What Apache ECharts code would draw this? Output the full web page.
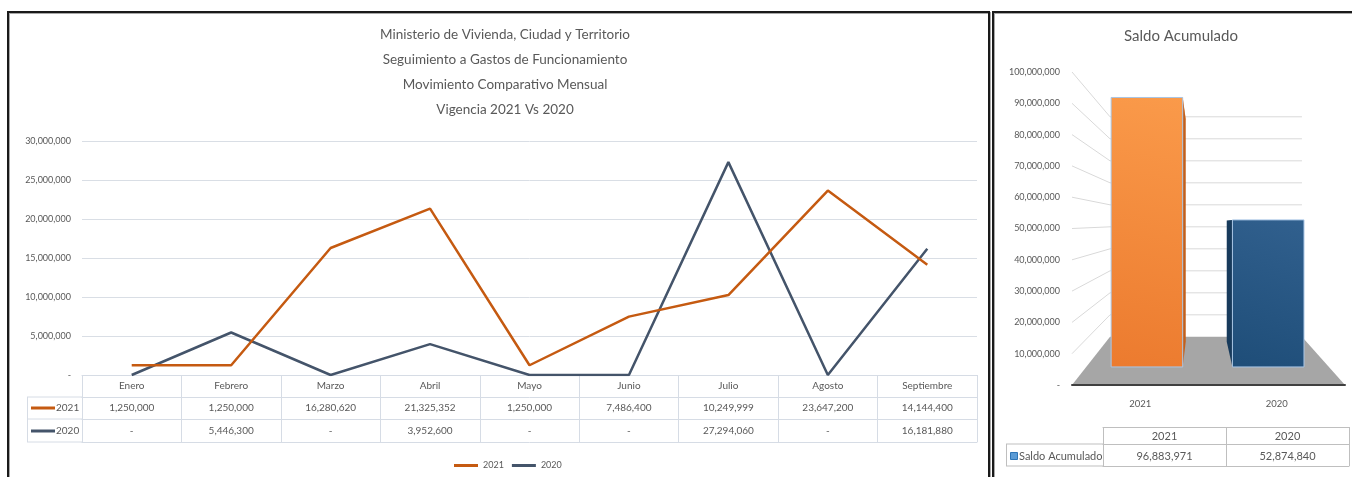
<!DOCTYPE html>
<html><head><meta charset="utf-8">
<script src="https://cdn.jsdelivr.net/npm/echarts@6/dist/echarts.min.js"></script>
<style>
html,body{margin:0;padding:0;background:#fff;overflow:hidden}
#c{position:absolute;left:0;top:0;width:1352px;height:477px}
.frame{position:absolute;border:2px solid #1a1a1a;box-shadow:inset 1px 1px 0 #a8a8a8,1px 1px 0 #a8a8a8;box-sizing:border-box}
</style></head><body>
<div class="frame" style="left:7px;top:11px;width:983px;height:520px"></div>
<div class="frame" style="left:992px;top:11px;width:420px;height:520px"></div>
<div id="c"></div>
<script>
// ---- data ----
const months = ['Enero','Febrero','Marzo','Abril','Mayo','Junio','Julio','Agosto','Septiembre'];
const seriesNames = ['2021','2020'];
const v2021 = [1250000,1250000,16280620,21325352,1250000,7486400,10249999,23647200,14144400];
const v2020 = [0,5446300,0,3952600,0,0,27294060,0,16181880];
const leftTitleLines = ['Ministerio de Vivienda, Ciudad y Territorio','Seguimiento a Gastos de Funcionamiento','Movimiento Comparativo Mensual','Vigencia 2021 Vs 2020'];
const leftTicks = [0,5000000,10000000,15000000,20000000,25000000,30000000];
const rightTitle = 'Saldo Acumulado';
const saldoCats = ['2021','2020'];
const saldoVals = [96883971,52874840];
const rightTicks = [0,10000000,20000000,30000000,40000000,50000000,60000000,70000000,80000000,90000000,100000000];

const FONT = 'Lato';
const TXT = '#595959';
const fmt = v => v === 0 ? '-' : String(v).replace(/\B(?=(\d{3})+(?!\d))/g, ',');
const C21 = '#C55A11', C20 = '#44546A';
const TB = '#D6DCE5';

const chart = echarts.init(document.getElementById('c'), null, {renderer:'canvas'});

// perspective helpers for 3D column look
const K = 0.297;
function vp(cs){ return [cs.x + cs.width*0.469, cs.y + cs.height*0.482]; }
function proj(V, P, d){ const s = 1 - K*d; return [V[0] + (P[0]-V[0])*s, V[1] + (P[1]-V[1])*s]; }

const barStyles = [
  {front:['#FA9A4A','#EC7B2F'], side:'#C3601C', top:'#F9A562'},
  {front:['#31608E','#1F4E79'], side:'#173A5B', top:'#3B6E9E'}
];

const option = {
  animation:false,
  textStyle:{fontFamily:FONT},
  title:[
    {text:leftTitleLines.join('\n'), left:500, top:17, textAlign:'center',
     textStyle:{fontFamily:FONT, fontSize:13.5, fontWeight:'normal', color:TXT, lineHeight:25}},
    {text:rightTitle, left:1176, top:24, textAlign:'center',
     textStyle:{fontFamily:FONT, fontSize:15, fontWeight:'normal', color:TXT}}
  ],
  legend:{data:seriesNames, left:449, top:456, icon:'rect', itemWidth:24, itemHeight:3, itemGap:8,
    textStyle:{fontFamily:FONT, fontSize:9, color:TXT}},
  grid:[
    {left:82, right:375, top:141, bottom:102},
    {left:1072, right:7, top:72, bottom:92},
    {left:1103, right:3, top:427, height:17}
  ],
  xAxis:[
    {gridIndex:0, type:'category', data:months, position:'bottom', boundaryGap:true,
     axisLine:{show:true, onZero:false, lineStyle:{color:TB, width:1}},
     axisTick:{show:true, length:67, lineStyle:{color:TB}},
     axisLabel:{fontFamily:FONT, fontSize:10, color:TXT, margin:6, interval:0}},
    {gridIndex:0, type:'category', data:months, position:'bottom', offset:22,
     axisLine:{show:true, onZero:false, lineStyle:{color:TB}}, axisTick:{show:false},
     axisLabel:{fontFamily:FONT, fontSize:10, color:TXT, margin:6, interval:0, formatter:(v,i)=>fmt(v2021[i])}},
    {gridIndex:0, type:'category', data:months, position:'bottom', offset:44,
     axisLine:{show:true, onZero:false, lineStyle:{color:TB}}, axisTick:{show:false},
     axisLabel:{fontFamily:FONT, fontSize:10, color:TXT, margin:7, interval:0, formatter:(v,i)=>fmt(v2020[i])}},
    {gridIndex:0, type:'category', data:months, position:'bottom', offset:67,
     axisLine:{show:true, onZero:false, lineStyle:{color:TB}}, axisTick:{show:false}, axisLabel:{show:false}},
    {gridIndex:1, type:'category', data:saldoCats, position:'bottom', z:6,
     axisLine:{show:true, onZero:false, lineStyle:{color:'#404040', width:2}}, axisTick:{show:false},
     axisLabel:{fontFamily:FONT, fontSize:9.5, color:TXT, margin:14}},
    {gridIndex:2, type:'category', data:saldoCats, position:'top',
     axisLine:{show:true, onZero:false, lineStyle:{color:'#BFBFBF'}},
     axisTick:{show:true, inside:true, length:17, lineStyle:{color:'#BFBFBF'}},
     axisLabel:{inside:true, fontFamily:FONT, fontSize:11, color:TXT, margin:4}},
    {gridIndex:2, type:'category', data:saldoCats, position:'bottom',
     axisLine:{show:true, onZero:false, lineStyle:{color:'#BFBFBF'}},
     axisTick:{show:true, length:22, lineStyle:{color:'#BFBFBF'}},
     axisLabel:{fontFamily:FONT, fontSize:11, color:TXT, margin:7, formatter:(v,i)=>fmt(saldoVals[i])}},
    {gridIndex:2, type:'category', data:saldoCats, position:'bottom', offset:22,
     axisLine:{show:true, onZero:false, lineStyle:{color:'#BFBFBF'}}, axisTick:{show:false}, axisLabel:{show:false}}
  ],
  yAxis:[
    {gridIndex:0, type:'value', min:leftTicks[0], max:leftTicks[leftTicks.length-1], interval:leftTicks[1]-leftTicks[0],
     axisLine:{show:false}, axisTick:{show:false},
     splitLine:{lineStyle:{color:'#D9DEE5'}},
     axisLabel:{fontFamily:FONT, fontSize:9, color:TXT, margin:11, formatter:fmt}},
    {gridIndex:1, type:'value', min:rightTicks[0], max:rightTicks[rightTicks.length-1], interval:rightTicks[1]-rightTicks[0],
     axisLine:{show:false}, axisTick:{show:false}, splitLine:{show:false},
     axisLabel:{fontFamily:FONT, fontSize:9, color:TXT, margin:12, formatter:fmt}},
    {gridIndex:2, type:'value', min:0, max:1, show:false}
  ],
  series:[
    {name:seriesNames[0], type:'line', xAxisIndex:0, yAxisIndex:0, data:v2021, symbol:'none',
     lineStyle:{color:C21, width:2.5}, itemStyle:{color:C21}, z:4},
    {name:seriesNames[1], type:'line', xAxisIndex:0, yAxisIndex:0, data:v2020, symbol:'none',
     lineStyle:{color:C20, width:2.5}, itemStyle:{color:C20}, z:3},
    // perspective gridlines (left wall + back wall), from the right axis ticks
    {type:'custom', xAxisIndex:4, yAxisIndex:1, z:1, silent:true,
     data:rightTicks.slice(1).map(v=>[0,v]),
     renderItem:function(params, api){
       const cs = params.coordSys, V = vp(cs);
       const y = api.coord([0, api.value(1)])[1];
       const F = [cs.x, y], BL = proj(V, F, 1), BR = proj(V, [cs.x+cs.width, y], 1);
       return {type:'polyline', shape:{points:[F, BL, BR]}, style:{stroke:'#D9D9D9', lineWidth:1, fill:null}};
     }},
    // floor
    {type:'custom', xAxisIndex:4, yAxisIndex:1, z:1, silent:true, data:[[0,0]],
     renderItem:function(params, api){
       const cs = params.coordSys, V = vp(cs);
       const y0 = api.coord([0, 0])[1];
       const FL = [cs.x, y0], FR = [cs.x+cs.width, y0];
       return {type:'polygon', shape:{points:[FL, FR, proj(V, FR, 1), proj(V, FL, 1)]}, style:{fill:'#A6A6A6'}};
     }},
    // 3D columns
    {type:'custom', xAxisIndex:4, yAxisIndex:1, z:3,
     data:saldoVals.map((v,i)=>[i,v]),
     renderItem:function(params, api){
       const cs = params.coordSys, V = vp(cs);
       const idx = api.value(0);
       const top = api.coord([idx, api.value(1)]);
       const base = api.coord([idx, 0]);
       const w = api.size([1,0])[0]*0.59;
       const TL=[top[0]-w/2, top[1]], TR=[top[0]+w/2, top[1]], BL=[top[0]-w/2, base[1]], BR=[top[0]+w/2, base[1]];
       const d0 = 0.375, d1 = 0.9;
       const st = barStyles[idx];
       const children = [];
       children.push({type:'polygon', shape:{points:[proj(V,TL,d0),proj(V,TR,d0),proj(V,TR,d1),proj(V,TL,d1)]}, style:{fill:st.top}});
       if (top[0] < V[0]) {
         children.push({type:'polygon', shape:{points:[proj(V,TR,d0),proj(V,TR,d1),proj(V,BR,d1),proj(V,BR,d0)]}, style:{fill:st.side}});
       } else {
         children.push({type:'polygon', shape:{points:[proj(V,TL,d0),proj(V,TL,d1),proj(V,BL,d1),proj(V,BL,d0)]}, style:{fill:st.side}});
       }
       children.push({type:'polygon', shape:{points:[proj(V,TL,d0),proj(V,TR,d0),proj(V,BR,d0),proj(V,BL,d0)]},
         style:{fill:new echarts.graphic.LinearGradient(1,0,0.3,1,[{offset:0,color:st.front[0]},{offset:1,color:st.front[1]}]),
                stroke:'#A9C6E6', lineWidth:1}});
       return {type:'group', children:children};
     }}
  ],
  graphic:[
    // left table: legend-key column
    {type:'line', shape:{x1:27, y1:397, x2:82, y2:397}, style:{stroke:TB}},
    {type:'line', shape:{x1:27, y1:419, x2:82, y2:419}, style:{stroke:TB}},
    {type:'line', shape:{x1:27, y1:442, x2:82, y2:442}, style:{stroke:TB}},
    {type:'line', shape:{x1:27.5, y1:397, x2:27.5, y2:442}, style:{stroke:TB}},
    {type:'line', shape:{x1:31, y1:408, x2:55, y2:408}, style:{stroke:C21, lineWidth:3}},
    {type:'text', x:56, y:408, style:{text:seriesNames[0], fontFamily:FONT, fontSize:10, fill:TXT, verticalAlign:'middle'}},
    {type:'line', shape:{x1:31, y1:431, x2:55, y2:431}, style:{stroke:C20, lineWidth:3}},
    {type:'text', x:56, y:431, style:{text:seriesNames[1], fontFamily:FONT, fontSize:10, fill:TXT, verticalAlign:'middle'}},
    // right table: label column
    {type:'line', shape:{x1:1006, y1:444, x2:1103, y2:444}, style:{stroke:'#BFBFBF'}},
    {type:'line', shape:{x1:1006, y1:466, x2:1103, y2:466}, style:{stroke:'#BFBFBF'}},
    {type:'line', shape:{x1:1006.5, y1:444, x2:1006.5, y2:466}, style:{stroke:'#BFBFBF'}},
    {type:'rect', shape:{x:1010.5, y:452.5, width:7, height:7}, style:{fill:'#5B9BD5', stroke:'#2E75B6', lineWidth:1}},
    {type:'text', x:1019, y:456, style:{text:rightTitle, fontFamily:FONT, fontSize:11, fill:TXT, verticalAlign:'middle'}}
  ]
};
chart.setOption(option);
</script>
</body></html>
